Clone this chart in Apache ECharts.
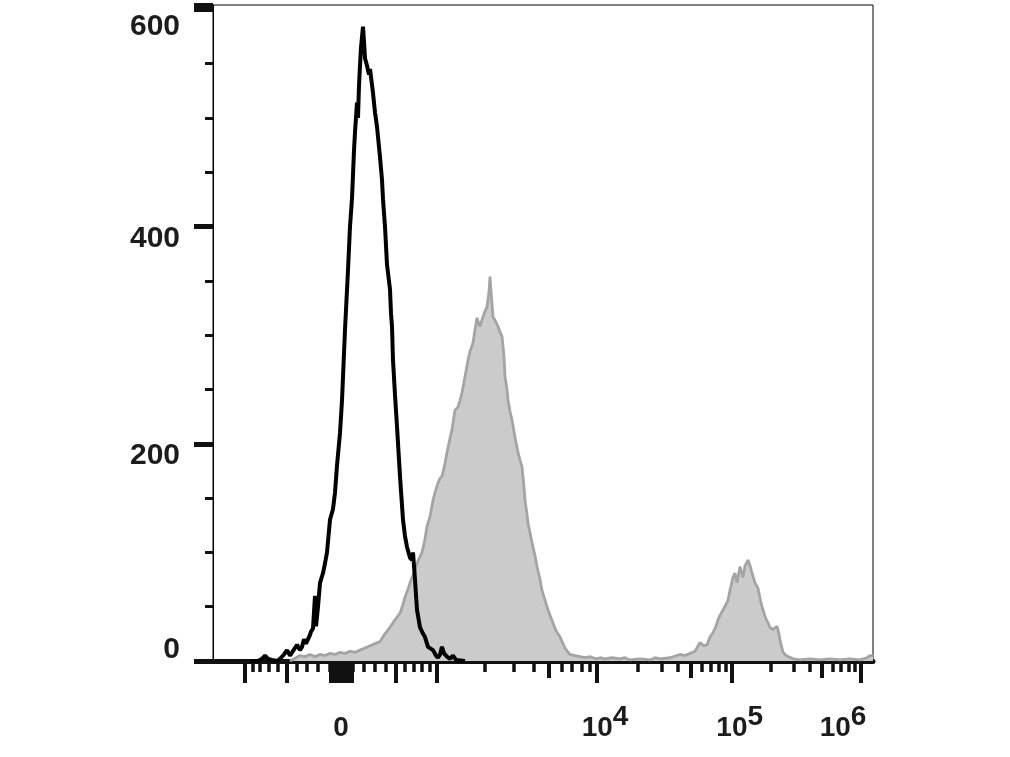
<!DOCTYPE html>
<html>
<head>
<meta charset="utf-8">
<script src="https://cdn.jsdelivr.net/npm/echarts@6/dist/echarts.min.js"></script>
<style>
html,body{margin:0;padding:0;background:#ffffff;}
#chart{width:1010px;height:757px;}
</style>
</head>
<body>
<div id="chart"></div>
<script>
// ---------------- data (display channels 0..990 of the biexponential axis, event counts) ----------------
const BLACK_CHANNEL = [
  55.5,67.5,73.5,78,82.5,88.5,96,100.5,106.5,111,
  115.5,118.5,123,126,130.5,133.5,136.5,139.5,142.5,145.5,
  147,150,153,154.5,157.5,160.5,165,168,171,175.5,
  180,183,186,190.5,193.5,198,202.5,205.5,208.5,211.5,
  213,216,217.5,219,220.5,222,225,226.5,228,231,
  234,235.5,240,243,246,250.5,253.5,255,258,261,
  265.5,267,268.5,270,273,276,280.5,285,288,291,
  295.5,298.5,300,303,306,310.5,313.5,318,322.5,325.5,
  330,334.5,337.5,340.5,343.5,346.5,351,355.5,360,364.5,
  367.5,378
];
const BLACK_COUNT = [
  0,0,2,5,2,1,0,2,6,10,
  5,5,12,15,10,13,20,16,17,24,
  27,30,60,32,50,72,81,90,100,130,
  140,155,180,210,240,305,360,400,426,470,
  487,514,500,530,548,565,584,570,555,548,
  540,545,523,505,492,464,443,425,400,365,
  342,320,308,277,245,216,170,130,115,105,
  95,93,100,75,47,31,27,22,13,12,
  10,5,3,6,13,7,4,2,5,1,
  0,0
];
const GREY_CHANNEL = [
  115.5,124.5,130.5,138,145.5,153,160.5,168,175.5,183,
  190.5,198,205.5,213,220.5,228,235.5,243,250.5,258,
  265.5,273,280.5,285,288,292.5,295.5,300,303,307.5,
  313.5,318,321,325.5,330,333,337.5,340.5,343.5,348,
  351,355.5,358.5,363,367.5,370.5,373.5,378,382.5,385.5,
  390,393,396,399,400.5,405,408,411,414,415.5,
  417,420,424.5,427.5,430.5,433.5,436.5,438,441,442.5,
  445.5,448.5,453,457.5,460.5,463.5,466.5,468,471,472.5,
  475.5,478.5,483,486,490.5,493.5,498,501,505.5,510,
  514.5,520.5,525,528,532.5,535.5,543,550.5,558,565.5,
  570,576,580.5,588,598.5,610.5,618,625.5,640.5,655.5,
  663,670.5,685.5,700.5,708,715.5,723,730.5,736.5,741,
  745.5,750,754.5,757.5,760.5,765,769.5,772.5,775.5,780,
  783,786,789,790.5,793.5,795,798,801,802.5,805.5,
  808.5,813,817.5,820.5,823.5,828,832.5,835.5,840,843,
  846,849,850.5,855,859.5,862.5,870,880.5,895.5,910.5,
  925.5,940.5,955.5,970.5,981,985.5,990
];
const GREY_COUNT = [
  0,3,5,4,6,4,6,5,7,6,
  8,7,9,8,10,12,14,16,18,25,
  31,38,44,52,59,66,72,79,84,92,
  100,112,124,133,148,155,164,168,170,182,
  192,205,213,231,234,240,247,262,277,285,
  293,305,316,310,308,317,322,326,340,354,
  340,317,312,308,303,299,280,262,250,240,
  230,222,206,192,185,179,160,148,135,127,
  118,109,97,87,75,65,56,50,42,35,
  28,22,16,12,8,6,5,4,3,4,
  3,2,3,2,3,2,3,1,2,1,
  3,2,3,6,5,7,9,17,14,15,
  22,26,32,38,42,47,52,56,65,77,
  81,72,82,87,80,77,88,91,93,88,
  81,72,67,58,50,41,35,31,29,30,
  32,25,19,8,5,4,2,1,2,1,
  2,1,2,1,3,5,5
];

// ---------------- axis tick values (fluorescence intensity) ----------------
const Y_TICKS = [0, 200, 400, 600];
const X_LABEL_VALUES = [0, 1e4, 1e5, 1e6];
const X_LABEL_EXPONENTS = [null, 4, 5, 6];
const X_MAJOR_TICKS = [-1000, -500, 500, 1000, 1e4, 1e5, 1e6];
const X_ZERO_CLUSTER = [-90, -75, -60, -45, -30, -15, 0, 15, 30, 45, 60, 75, 90];
const X_MID_TICKS = [5e3, 5e4, 5e5];
const X_MINOR_TICKS = [
  -900, -800, -700, -600, -400, -300, -200, -100,
  100, 200, 300, 400, 600, 700, 800, 900,
  2e3, 3e3, 4e3, 6e3, 7e3, 8e3, 9e3,
  2e4, 3e4, 4e4, 6e4, 7e4, 8e4, 9e4,
  2e5, 3e5, 4e5, 6e5, 7e5, 8e5, 9e5
];

// ---------------- biexponential display scale ----------------
const CH_MAX = 990;
const CH_ZERO = 192, CH_LIN = 144, LIN_W = 780;
const DECADE_CH = [336, 576, 778, 972]; // channels of 1e3, 1e4, 1e5, 1e6
function toChannel(v) {
  if (Math.abs(v) <= 1000) {
    return CH_ZERO + Math.sign(v) * CH_LIN * Math.asinh(Math.abs(v) / LIN_W) / Math.asinh(1000 / LIN_W);
  }
  const l = Math.log10(v);
  const k = Math.min(Math.floor(l), 5);
  const i = k - 3;
  return DECADE_CH[i] + (DECADE_CH[i + 1] - DECADE_CH[i]) * (l - k);
}

const FONT = "'Liberation Sans', Arial, sans-serif";
const WEIGHT = 'bold';
const INK = '#111111';
const TXT = '#1c1c1c';

const labelChannels = X_LABEL_VALUES.map(toChannel);
function xLabel(val) {
  let idx = 0, best = Infinity;
  labelChannels.forEach((c, i) => { const d = Math.abs(c - val); if (d < best) { best = d; idx = i; } });
  const e = X_LABEL_EXPONENTS[idx];
  if (e === null) return '{b|' + X_LABEL_VALUES[idx] + '}';
  if (idx === X_LABEL_EXPONENTS.length - 1) return '{b|10}{s|' + e + '}{q| }';
  return '{p| }{b|10}{s|' + e + '}';
}

const gridRect = { left: 213, right: 137, top: 5, bottom: 96, containLabel: false, outerBoundsMode: 'none' };
const chart = echarts.init(document.getElementById('chart'), null, { renderer: 'canvas' });

function baseX(gridIndex) {
  return {
    type: 'value', gridIndex: gridIndex, min: 0, max: CH_MAX, position: 'bottom',
    splitLine: { show: false }, axisLine: { show: false }, axisLabel: { show: false }
  };
}

const option = {
  animation: false,
  backgroundColor: '#ffffff',
  grid: [
    Object.assign({ show: true, borderColor: '#000000', borderWidth: 1, backgroundColor: 'transparent' }, gridRect),
    Object.assign({ show: false }, gridRect),
    Object.assign({ show: false }, gridRect)
  ],
  xAxis: [
    Object.assign(baseX(0), {
      axisLine: { show: true, lineStyle: { color: INK, width: 5 } },
      axisTick: { show: true, length: 22, lineStyle: { color: INK, width: 4 },
                  customValues: X_MAJOR_TICKS.concat(X_ZERO_CLUSTER).map(toChannel) },
      axisLabel: {
        show: true, margin: 42, customValues: labelChannels, formatter: xLabel,
        fontFamily: FONT, fontSize: 28, fontWeight: WEIGHT, color: TXT,
        rich: {
          b: { fontFamily: FONT, fontSize: 28, fontWeight: WEIGHT, lineHeight: 28, color: TXT, padding: [23, 0, 0, 0] },
          s: { fontFamily: FONT, fontSize: 28, fontWeight: WEIGHT, lineHeight: 28, color: TXT, verticalAlign: 'top' },
          p: { width: 16, lineHeight: 28, fontSize: 28 },
          q: { width: 36, lineHeight: 28, fontSize: 28 }
        }
      }
    }),
    Object.assign(baseX(1), {
      axisTick: { show: true, length: 17, lineStyle: { color: INK, width: 4 },
                  customValues: X_MID_TICKS.map(toChannel) }
    }),
    Object.assign(baseX(2), {
      axisTick: { show: true, length: 11, lineStyle: { color: INK, width: 3.5 },
                  customValues: X_MINOR_TICKS.map(toChannel) }
    })
  ],
  yAxis: [
    {
      type: 'value', gridIndex: 0, min: 0, max: 604, interval: 200, position: 'left',
      splitLine: { show: false },
      axisLine: { show: true, lineStyle: { color: '#000000', width: 1 } },
      axisTick: { show: true, length: 19, lineStyle: { color: INK, width: 5 } },
      minorTick: { show: true, splitNumber: 4, length: 8, lineStyle: { color: INK, width: 3 } },
      axisLabel: {
        show: true, margin: 33, fontFamily: FONT, fontSize: 30, fontWeight: WEIGHT, color: TXT,
        formatter: function (v) {
          if (v === 0) return '{z|0}';
          if (v === 600) return '{t|600}';
          return '{n|' + v + '}';
        },
        rich: {
          n: { fontFamily: FONT, fontSize: 30, fontWeight: WEIGHT, lineHeight: 30, color: TXT, padding: [24, 0, 0, 0] },
          t: { fontFamily: FONT, fontSize: 30, fontWeight: WEIGHT, lineHeight: 30, color: TXT, padding: [34, 0, 0, 0] },
          z: { fontFamily: FONT, fontSize: 30, fontWeight: WEIGHT, lineHeight: 30, color: TXT, padding: [0, 0, 22, 0] }
        }
      }
    },
    { type: 'value', gridIndex: 1, min: 0, max: 604, show: false },
    { type: 'value', gridIndex: 2, min: 0, max: 604, show: false }
  ],
  series: [
    {
      name: 'stained', type: 'line', xAxisIndex: 0, yAxisIndex: 0,
      data: GREY_CHANNEL.map((c, i) => [c, GREY_COUNT[i]]),
      showSymbol: false, symbol: 'none', z: 2,
      lineStyle: { color: '#a4a4a4', width: 2.8 },
      areaStyle: { color: '#cbcbcb', opacity: 1 }
    },
    {
      name: 'control', type: 'line', xAxisIndex: 0, yAxisIndex: 0,
      data: BLACK_CHANNEL.map((c, i) => [c, BLACK_COUNT[i]]),
      showSymbol: false, symbol: 'none', z: 3,
      lineStyle: { color: '#000000', width: 4 }
    }
  ]
};
chart.setOption(option);
</script>
</body>
</html>
